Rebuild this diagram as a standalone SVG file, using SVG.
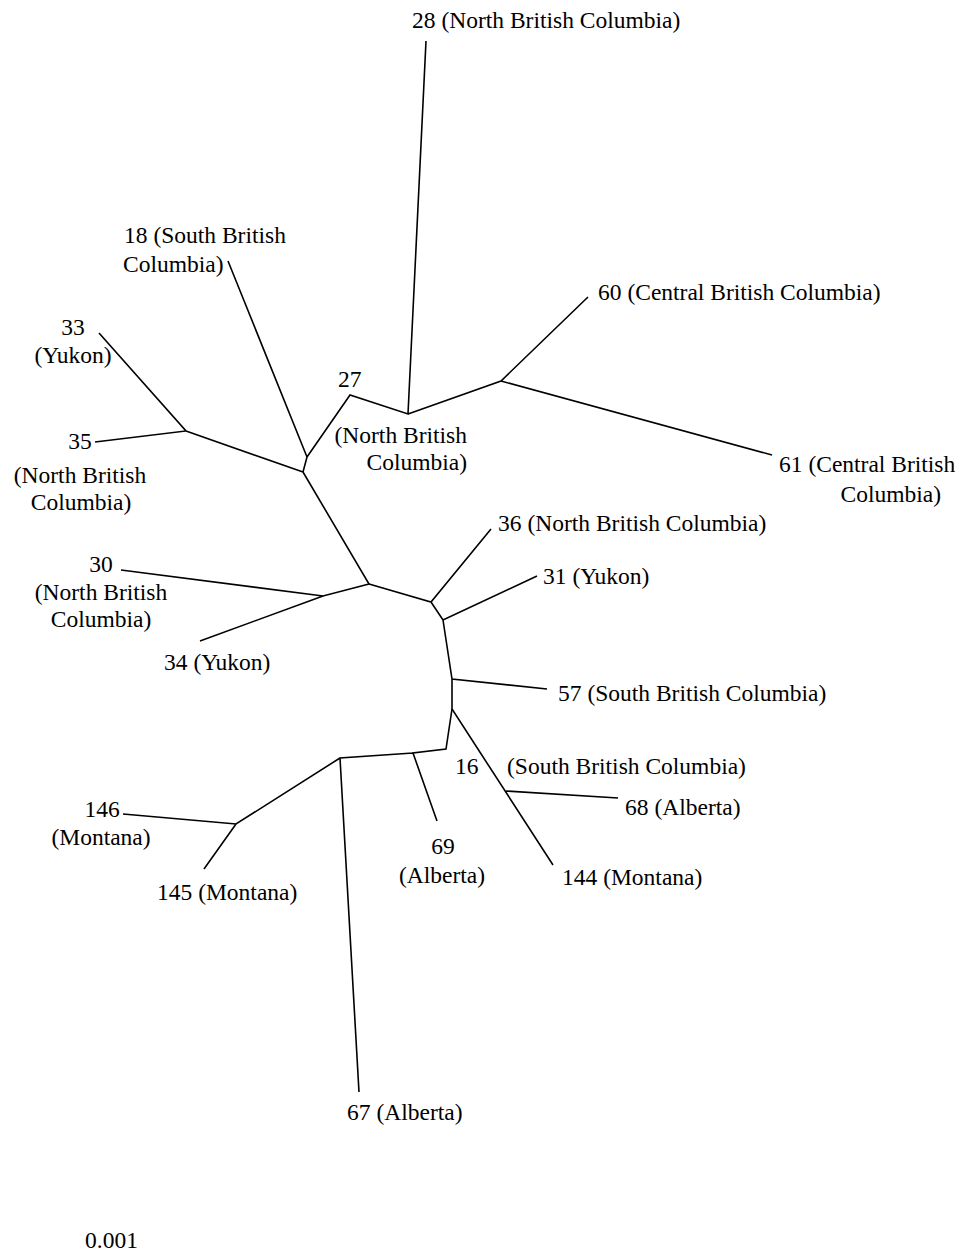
<svg xmlns="http://www.w3.org/2000/svg" width="964" height="1260" viewBox="0 0 964 1260">
<style>
text{font-family:"Liberation Serif","Times New Roman",serif;font-size:23.5px;fill:#000}
.m{text-anchor:middle}
.e{text-anchor:end}
#edges path{fill:none;stroke:#000;stroke-width:1.6;stroke-linejoin:miter}
</style>
<rect width="964" height="1260" fill="#fff"/>
<g id="edges">
<path d="M303,472 L186,431 M99,333 L186,431 L95,442"/>
<path d="M303,472 L307,457 L228,261 M307,457 L350,395 L408,414 L426,41 M408,414 L501,381 L588,297 M501,381 L772,455"/>
<path d="M303,472 L369,584 L323,596 L121,570 M323,596 L200,641"/>
<path d="M369,584 L431,602 L491,529 M431,602 L443,620 L537,576 M443,620 L452,679 L547,689 M452,679 L452,709 L553,865 M506,791 L618,798"/>
<path d="M452,709 L446,749 L413,753 L437,821 M413,753 L340,758 L359,1092 M340,758 L236,824 L123,814 M236,824 L204,869"/>
</g>
<g id="n28"><text x="412" y="28">28 (North British Columbia)</text></g>
<g id="n18"><text x="124" y="243">18 (South British</text><text x="123" y="272">Columbia)</text></g>
<g id="n33"><text class="m" x="73" y="335">33</text><text class="m" x="73" y="363">(Yukon)</text></g>
<g id="n35"><text class="m" x="80" y="449">35</text><text class="m" x="80" y="483">(North British</text><text class="m" x="81" y="510">Columbia)</text></g>
<g id="n27"><text x="338" y="387">27</text><text class="e" x="467" y="443">(North British</text><text class="e" x="467" y="470">Columbia)</text></g>
<g id="n60"><text x="598" y="300">60 (Central British Columbia)</text></g>
<g id="n61"><text x="779" y="472">61 (Central British</text><text class="e" x="941" y="502">Columbia)</text></g>
<g id="n36"><text x="498" y="531">36 (North British Columbia)</text></g>
<g id="n31"><text x="543" y="584">31 (Yukon)</text></g>
<g id="n57"><text x="558" y="701">57 (South British Columbia)</text></g>
<g id="n30"><text class="m" x="101" y="572">30</text><text class="m" x="101" y="600">(North British</text><text class="m" x="101" y="627">Columbia)</text></g>
<g id="n34"><text x="164" y="670">34 (Yukon)</text></g>
<g id="n16"><text x="455" y="774">16</text><text x="507" y="774">(South British Columbia)</text></g>
<g id="n68"><text x="625" y="815">68 (Alberta)</text></g>
<g id="n69"><text class="m" x="443" y="854">69</text><text class="m" x="442" y="883">(Alberta)</text></g>
<g id="n144"><text x="562" y="885">144 (Montana)</text></g>
<g id="n146"><text class="m" x="102" y="817">146</text><text class="m" x="101" y="845">(Montana)</text></g>
<g id="n145"><text x="157" y="900">145 (Montana)</text></g>
<g id="n67"><text x="347" y="1120">67 (Alberta)</text></g>
<g id="scale"><text x="85" y="1248">0.001</text></g>
</svg>
